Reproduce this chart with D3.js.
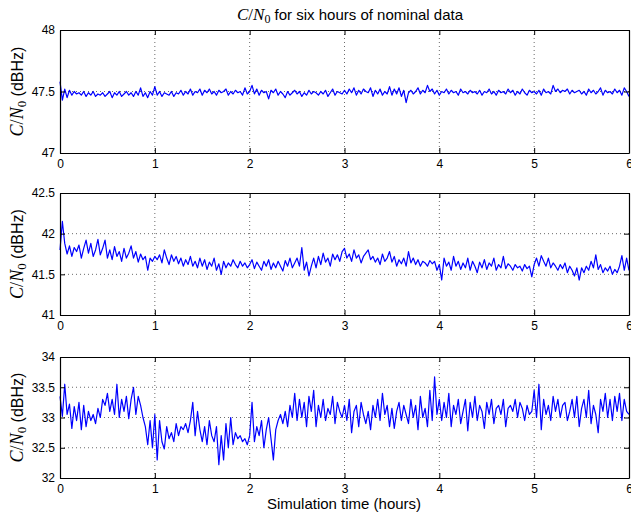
<!DOCTYPE html>
<html>
<head>
<meta charset="utf-8">
<script src="https://cdn.jsdelivr.net/npm/d3@7"></script>
<style>
  html, body { margin: 0; padding: 0; background: #fff; }
  svg { display: block; }
  .tick text { font-family: "Liberation Sans", Arial, sans-serif; font-size: 12px; fill: #000; }
</style>
</head>
<body>
<svg id="chart" width="631" height="515"></svg>
<script>
// ---- data ----
const sampleStepHours = 0.025;        // sampling interval of the series (hours)
const xTicks = [0, 1, 2, 3, 4, 5, 6];
const titleText = " for six hours of nominal data";
const xLabelText = "Simulation time (hours)";

const yDomainTop = [47, 48];
const yTicksTop = [47, 47.5, 48];
const cnoTop = [
  47.58,47.43,47.52,47.45,47.51,47.47,47.50,47.48,47.49,47.47,
  47.50,47.46,47.49,47.47,47.50,47.46,47.48,47.47,47.49,47.46,
  47.48,47.50,47.45,47.49,47.47,47.50,47.46,47.48,47.50,47.47,
  47.49,47.46,47.50,47.47,47.53,47.46,47.49,47.45,47.50,47.47,
  47.54,47.47,47.50,47.46,47.49,47.48,47.47,47.50,47.46,47.49,
  47.48,47.51,47.47,47.50,47.48,47.52,47.47,47.50,47.49,47.52,
  47.47,47.51,47.49,47.52,47.48,47.50,47.47,47.51,47.49,47.50,
  47.52,47.47,47.50,47.48,47.51,47.49,47.50,47.47,47.53,47.48,
  47.50,47.55,47.48,47.52,47.47,47.51,47.49,47.50,47.44,47.51,
  47.49,47.52,47.47,47.50,47.48,47.45,47.50,47.47,47.49,47.51,
  47.48,47.50,47.46,47.49,47.47,47.51,47.48,47.50,47.49,47.47,
  47.50,47.48,47.51,47.46,47.49,47.52,47.47,47.50,47.49,47.48,
  47.51,47.48,47.52,47.49,47.53,47.47,47.51,47.48,47.52,47.50,
  47.49,47.53,47.46,47.51,47.48,47.52,47.47,47.50,47.48,47.54,
  47.47,47.52,47.48,47.53,47.46,47.51,47.41,47.49,47.51,47.48,
  47.50,47.53,47.48,47.51,47.49,47.55,47.50,47.52,47.48,47.51,
  47.47,47.50,47.49,47.52,47.48,47.51,47.49,47.50,47.47,47.52,
  47.49,47.50,47.48,47.51,47.49,47.50,47.48,47.51,47.47,47.50,
  47.49,47.52,47.48,47.50,47.47,47.51,47.49,47.50,47.48,47.52,
  47.49,47.51,47.47,47.50,47.48,47.52,47.49,47.47,47.51,47.49,
  47.50,47.48,47.51,47.47,47.52,47.49,47.50,47.48,47.55,47.50,
  47.52,47.49,47.51,47.50,47.52,47.48,47.51,47.49,47.50,47.51,
  47.48,47.50,47.47,47.52,47.49,47.51,47.48,47.50,47.53,47.47,
  47.51,47.49,47.50,47.48,47.52,47.49,47.51,47.47,47.53,47.50,
  47.46
];

const yDomainMid = [41, 42.5];
const yTicksMid = [41, 41.5, 42, 42.5];
const cnoMid = [
  41.80,42.15,41.88,41.75,41.85,41.72,41.83,41.78,41.86,41.70,
  41.82,41.92,41.76,41.88,41.72,41.80,41.93,41.74,41.82,41.92,
  41.70,41.80,41.68,41.84,41.72,41.78,41.66,41.82,41.70,41.76,
  41.85,41.70,41.78,41.65,41.75,41.68,41.72,41.55,41.70,41.66,
  41.72,41.68,41.74,41.64,41.80,41.70,41.62,41.74,41.66,41.72,
  41.63,41.70,41.60,41.68,41.62,41.72,41.60,41.66,41.58,41.70,
  41.60,41.68,41.56,41.65,41.60,41.70,41.55,41.63,41.50,41.66,
  41.58,41.64,41.60,41.68,41.62,41.58,41.66,41.60,41.64,41.58,
  41.62,41.68,41.57,41.65,41.60,41.55,41.66,41.60,41.68,41.56,
  41.64,41.58,41.66,41.60,41.54,41.67,41.60,41.70,41.58,41.64,
  41.70,41.60,41.83,41.55,41.65,41.48,41.60,41.70,41.58,41.72,
  41.62,41.76,41.65,41.70,41.60,41.75,41.68,41.74,41.66,41.78,
  41.82,41.70,41.75,41.66,41.80,41.70,41.74,41.64,41.72,41.76,
  41.80,41.68,41.72,41.65,41.70,41.62,41.75,41.66,41.70,41.78,
  41.65,41.72,41.60,41.68,41.63,41.70,41.60,41.78,41.64,41.70,
  41.62,41.68,41.60,41.66,41.64,41.60,41.67,41.63,41.66,41.55,
  41.62,41.43,41.70,41.60,41.65,41.55,41.72,41.60,41.66,41.56,
  41.64,41.58,41.70,41.55,41.66,41.60,41.52,41.65,41.58,41.68,
  41.56,41.64,41.60,41.70,41.55,41.62,41.58,41.72,41.57,41.63,
  41.60,41.55,41.62,41.58,41.60,41.54,41.62,41.57,41.60,41.47,
  41.62,41.70,41.60,41.73,41.66,41.60,41.70,41.58,41.64,41.60,
  41.55,41.62,41.57,41.64,41.52,41.60,41.55,41.48,41.58,41.43,
  41.58,41.52,41.60,41.55,41.66,41.58,41.74,41.56,41.62,41.52,
  41.58,41.54,41.60,41.50,41.56,41.52,41.60,41.73,41.55,41.70,
  41.55
];

const yDomainBot = [32, 34];
const yTicksBot = [32, 32.5, 33, 33.5, 34];
const cnoBot = [
  33.35,33.02,33.55,33.05,33.22,32.82,33.18,32.95,33.25,32.80,
  33.20,32.85,33.10,32.95,33.05,32.90,33.15,33.00,33.30,33.20,
  33.40,33.10,33.30,33.05,33.55,33.00,33.30,33.10,33.35,32.98,
  33.30,33.50,33.05,33.35,33.20,33.00,32.85,32.55,32.95,32.50,
  33.05,32.30,32.95,32.60,32.48,32.85,32.65,32.75,32.60,32.90,
  32.70,32.85,32.80,32.90,32.75,32.95,33.25,32.70,33.10,32.80,
  32.60,32.85,32.55,32.95,32.70,32.60,32.85,32.22,32.70,32.30,
  32.90,32.50,33.00,32.55,32.75,32.65,32.70,32.60,32.65,32.55,
  32.70,33.25,32.60,32.85,32.70,32.95,32.50,32.80,33.00,32.65,
  32.30,32.80,32.95,33.05,32.90,33.10,32.85,33.20,33.00,33.40,
  32.95,33.30,33.00,33.25,32.85,33.35,33.10,33.45,32.85,33.20,
  33.00,33.30,32.95,33.15,33.05,33.35,32.90,33.25,33.10,33.00,
  33.20,32.95,33.30,32.75,33.10,33.20,32.85,33.25,33.05,32.90,
  33.10,32.80,33.20,33.00,33.30,32.95,33.40,33.05,33.20,32.85,
  33.15,32.82,33.10,33.25,32.95,33.20,33.05,32.90,33.30,33.00,
  33.20,32.80,33.35,33.00,33.15,32.85,33.45,32.95,33.67,33.05,
  33.30,32.95,33.25,33.00,33.40,32.85,33.20,33.05,33.30,32.90,
  33.10,33.30,32.78,33.25,33.00,33.35,32.95,33.20,33.10,32.82,
  33.25,33.05,33.30,32.90,33.15,33.20,33.05,33.30,32.85,33.15,
  33.20,33.10,33.30,33.00,33.25,33.15,32.95,33.20,33.05,33.10,
  33.45,33.00,33.55,32.80,33.30,33.05,33.20,32.95,33.35,33.10,
  33.30,33.00,33.20,33.25,32.95,33.10,33.30,33.00,33.35,32.85,
  33.15,33.30,33.00,33.45,32.90,33.20,33.05,32.75,33.30,33.10,
  33.40,33.00,33.30,32.95,33.35,33.10,33.40,32.95,33.30,33.10,
  33.05
];

// ---- drawing ----
const svg = d3.select("#chart");
const left = 60, right = 629;
const panels = [
  { top: 30,  height: 123, domain: yDomainTop, ticks: yTicksTop, values: cnoTop },
  { top: 193, height: 122, domain: yDomainMid, ticks: yTicksMid, values: cnoMid },
  { top: 357, height: 121, domain: yDomainBot, ticks: yTicksBot, values: cnoBot }
];
const x = d3.scaleLinear().domain([0, 6]).range([left, right]);
const fmt = d => String(d);
const sans = '"Liberation Sans", Arial, sans-serif';
const serif = '"Liberation Serif", "Times New Roman", serif';

function cnoLabel(sel, size) {
  sel.append("tspan").attr("font-family", serif).attr("font-style", "italic").attr("font-size", size + 2).text("C");
  sel.append("tspan").attr("font-family", serif).attr("font-size", size + 2).text("/");
  sel.append("tspan").attr("font-family", serif).attr("font-style", "italic").attr("font-size", size + 2).text("N");
  sel.append("tspan").attr("font-family", serif).attr("font-size", size - 3).attr("dy", 3).text("0");
}

panels.forEach(p => {
  const y = d3.scaleLinear().domain(p.domain).range([p.top + p.height, p.top]);
  const g = svg.append("g");

  // grid (dotted)
  const grid = g.append("g").attr("stroke", "#444").attr("stroke-width", 0.8).attr("stroke-dasharray", "1 3");
  grid.selectAll("line.vx").data(xTicks.slice(1, -1)).join("line")
    .attr("x1", d => x(d)).attr("x2", d => x(d)).attr("y1", p.top).attr("y2", p.top + p.height);
  grid.selectAll("line.hy").data(p.ticks.slice(1, -1)).join("line")
    .attr("x1", left).attr("x2", right).attr("y1", d => y(d)).attr("y2", d => y(d));

  // series
  const line = d3.line().x((d, i) => x(i * sampleStepHours)).y(d => y(d));
  g.append("path").datum(p.values)
    .attr("fill", "none").attr("stroke", "#0000ff").attr("stroke-width", 1.2)
    .attr("stroke-linejoin", "round").attr("d", line);

  // axes (inward ticks, box)
  const axB = d3.axisBottom(x).tickValues(xTicks).tickSizeInner(-5).tickSizeOuter(0).tickPadding(6).tickFormat(fmt);
  const axT = d3.axisTop(x).tickValues(xTicks).tickSizeInner(-5).tickSizeOuter(0).tickFormat("");
  const axL = d3.axisLeft(y).tickValues(p.ticks).tickSizeInner(-5).tickSizeOuter(0).tickPadding(5).tickFormat(fmt);
  const axR = d3.axisRight(y).tickValues(p.ticks).tickSizeInner(-5).tickSizeOuter(0).tickFormat("");
  [[axB, `translate(0,${p.top + p.height})`], [axT, `translate(0,${p.top})`],
   [axL, `translate(${left},0)`], [axR, `translate(${right},0)`]].forEach(([ax, tr]) => {
    const a = g.append("g").attr("transform", tr).call(ax);
    a.select(".domain").attr("stroke", "#000").attr("stroke-width", 1.2);
    a.selectAll(".tick line").attr("stroke", "#000");
  });

  // y label
  const cy = p.top + p.height / 2;
  const t = g.append("text").attr("transform", `translate(23,${cy}) rotate(-90)`)
    .attr("text-anchor", "middle").attr("fill", "#000");
  cnoLabel(t, 16);
  t.append("tspan").attr("dy", -3).attr("font-family", sans).attr("font-size", 16).text(" (dBHz)");
});

// title
const title = svg.append("text").attr("x", 350).attr("y", 20)
  .attr("text-anchor", "middle").attr("fill", "#000");
cnoLabel(title, 15);
title.append("tspan").attr("dy", -3).attr("font-family", sans).attr("font-size", 15).text(titleText);

// x label
svg.append("text").attr("x", 344).attr("y", 509)
  .attr("text-anchor", "middle").attr("font-family", sans).attr("font-size", 15)
  .attr("fill", "#000").text(xLabelText);
</script>
</body>
</html>
